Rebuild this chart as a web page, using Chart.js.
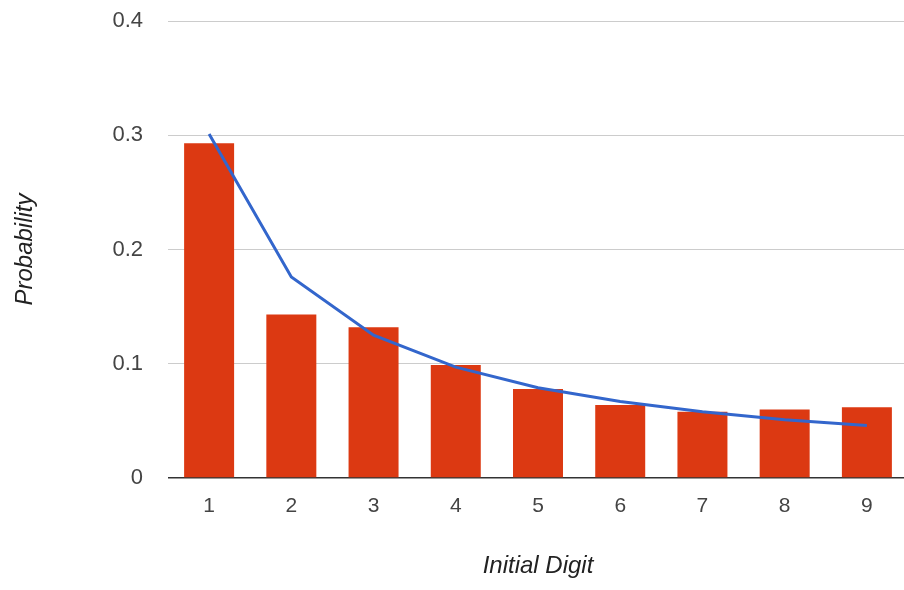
<!DOCTYPE html>
<html>
<head>
<meta charset="utf-8">
<script src="https://cdn.jsdelivr.net/npm/chart.js@4/dist/chart.umd.min.js"></script>
<style>
  html, body { margin: 0; padding: 0; background: #fff; overflow: hidden; width: 904px; height: 590px; }
  #wrap { width: 904px; height: 590px; position: relative; overflow: hidden; }
</style>
</head>
<body>
<div id="wrap"><canvas id="c" width="912" height="590"></canvas></div>
<script>
const digits = ['1', '2', '3', '4', '5', '6', '7', '8', '9'];
const observed = [0.293, 0.143, 0.132, 0.099, 0.078, 0.064, 0.058, 0.060, 0.062];
const benford = [0.301, 0.176, 0.125, 0.097, 0.079, 0.067, 0.058, 0.051, 0.046];
const yTicks = [0, 0.1, 0.2, 0.3, 0.4];
const xTitle = 'Initial Digit';
const yTitle = 'Probability';

const FONT = "'Liberation Sans', Arial, sans-serif";

new Chart(document.getElementById('c'), {
  data: {
    labels: digits,
    datasets: [
      {
        type: 'line',
        label: 'Benford',
        data: benford,
        borderColor: '#3366cc',
        borderWidth: 3,
        pointRadius: 0,
        tension: 0,
        fill: false,
        order: 0
      },
      {
        type: 'bar',
        label: 'Observed',
        data: observed,
        backgroundColor: '#dc3912',
        borderWidth: 0,
        barPercentage: 0.608,
        categoryPercentage: 1.0,
        order: 1
      }
    ]
  },
  options: {
    responsive: false,
    animation: false,
    devicePixelRatio: 1,
    layout: { padding: { top: 21, right: 4, left: 0, bottom: 0 } },
    plugins: { legend: { display: false }, tooltip: { enabled: false } },
    scales: {
      x: {
        type: 'category',
        offset: true,
        grid: { display: false, drawTicks: false },
        border: { display: false },
        ticks: {
          color: '#444',
          font: { family: FONT, size: 21 },
          padding: 16,
          maxRotation: 0
        },
        title: {
          display: true,
          text: xTitle,
          color: '#222',
          font: { family: FONT, size: 24, style: 'italic' },
          padding: { top: 0, bottom: 9 }
        },
        afterFit: (s) => { s.height = 112; }
      },
      y: {
        min: 0,
        max: 0.4,
        afterBuildTicks: (s) => { s.ticks = yTicks.map(v => ({ value: v })); },
        grid: {
          drawTicks: true,
          tickLength: 25,
          tickColor: 'rgba(0,0,0,0)',
          color: (ctx) => (ctx.tick && ctx.tick.value === 0 ? '#333' : '#cccccc'),
          lineWidth: (ctx) => (ctx.tick && ctx.tick.value === 0 ? 1.5 : 1)
        },
        border: { display: false },
        ticks: {
          color: '#444',
          font: { family: FONT, size: 22 },
          padding: 0,
          callback: (v) => (v === 0 ? '0' : String(Math.round(v * 10) / 10))
        },
        title: {
          display: true,
          text: yTitle,
          color: '#222',
          font: { family: FONT, size: 24, style: 'italic' },
          padding: { top: 11, bottom: 0 }
        },
        afterFit: (s) => { s.width = 168; }
      }
    }
  }
});
</script>
</body>
</html>
